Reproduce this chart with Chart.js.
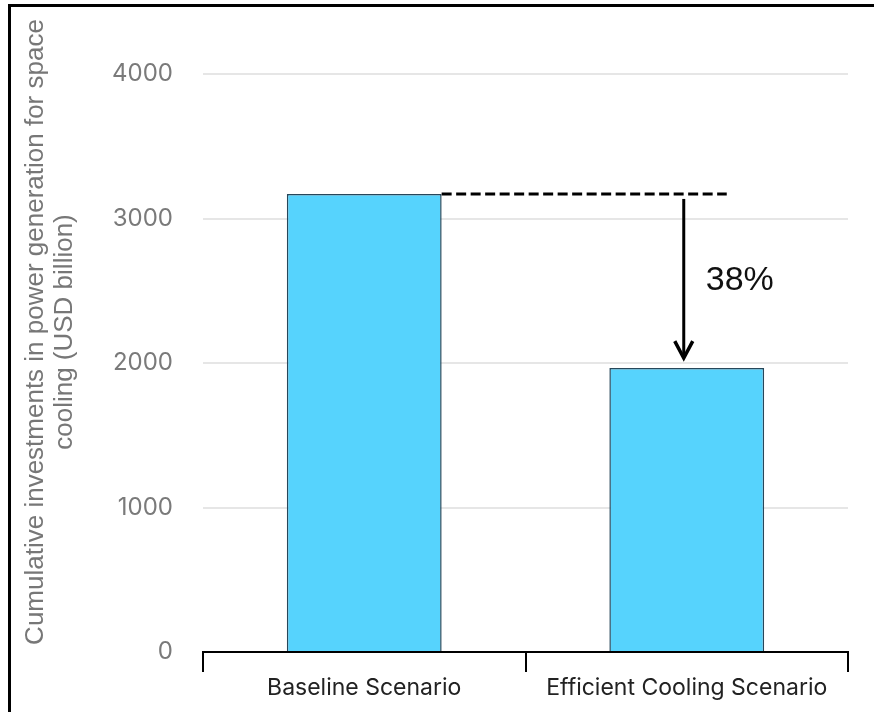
<!DOCTYPE html>
<html>
<head>
<meta charset="utf-8">
<title>Cumulative investments in power generation for space cooling</title>
<script src="https://cdn.jsdelivr.net/npm/chart.js@4.4.1/dist/chart.umd.min.js"></script>
<style>
  html, body { margin: 0; padding: 0; background: #fff; overflow: hidden; }
  #frame {
    position: absolute; left: 8px; top: 4px; width: 900px; height: 760px;
    border: 3px solid #000; box-sizing: border-box;
  }
  #wrap { position: absolute; left: 0; top: 0; width: 874px; height: 712px; }
</style>
</head>
<body>
<div id="frame"></div>
<div id="wrap"><canvas id="chart" width="874" height="712"></canvas></div>
<script>
// Scenarios and cumulative investment (USD billion)
const scenarios = ['Baseline Scenario', 'Efficient Cooling Scenario'];
const investments = [3170, 1965];
const yTicks = [0, 1000, 2000, 3000, 4000];
const yTitleLines = ['Cumulative investments in power generation for space', 'cooling (USD billion)'];

const reduction = Math.round((1 - investments[1] / investments[0]) * 100);

// Rotated two-line axis title on the left
const yTitlePlugin = {
  id: 'yTitle',
  afterDraw(chart, args, opts) {
    const { ctx } = chart;
    ctx.save();
    ctx.font = opts.font;
    ctx.fillStyle = opts.color;
    ctx.textAlign = 'center';
    ctx.textBaseline = 'middle';
    opts.lines.forEach((line, i) => {
      ctx.save();
      ctx.translate(opts.x + i * opts.lineHeight, opts.centerY);
      ctx.rotate(-Math.PI / 2);
      ctx.fillText(line, 0, 0);
      ctx.restore();
    });
    ctx.restore();
  }
};

// Dashed reference level, arrow and percentage drop between the two scenarios
const reductionPlugin = {
  id: 'reduction',
  afterDatasetsDraw(chart) {
    const { ctx, scales: { y } } = chart;
    const bars = chart.getDatasetMeta(0).data;
    const yTop = y.getPixelForValue(investments[0]);
    const yLow = y.getPixelForValue(investments[1]);
    const startX = bars[0].x + bars[0].width / 2;
    const endX = bars[1].x + 40;
    const arrowX = bars[1].x - 3;
    const tipY = yLow - 10;

    ctx.save();
    ctx.strokeStyle = '#000';
    ctx.lineWidth = 3;
    ctx.setLineDash([10, 4.5]);
    ctx.beginPath();
    ctx.moveTo(startX, yTop);
    ctx.lineTo(endX, yTop);
    ctx.stroke();

    ctx.setLineDash([]);
    ctx.lineWidth = 3;
    ctx.beginPath();
    ctx.moveTo(arrowX, yTop + 5);
    ctx.lineTo(arrowX, tipY - 2);
    ctx.stroke();

    ctx.lineWidth = 3.5;
    ctx.lineJoin = 'miter';
    ctx.beginPath();
    ctx.moveTo(arrowX - 9, tipY - 17);
    ctx.lineTo(arrowX, tipY);
    ctx.lineTo(arrowX + 9, tipY - 17);
    ctx.stroke();

    ctx.fillStyle = '#111';
    ctx.font = '34px "Liberation Sans", Arial, sans-serif';
    ctx.textAlign = 'left';
    ctx.textBaseline = 'middle';
    ctx.fillText(reduction + '%', arrowX + 22, (yTop + yLow) / 2);
    ctx.restore();
  }
};

new Chart(document.getElementById('chart'), {
  type: 'bar',
  data: {
    labels: scenarios,
    datasets: [{
      data: investments,
      backgroundColor: '#56d3fd',
      borderColor: '#27475a',
      borderWidth: 1.5,
      categoryPercentage: 1,
      barPercentage: 0.48
    }]
  },
  options: {
    responsive: false,
    animation: false,
    layout: { padding: { left: 0, right: 26, top: 74, bottom: 0 } },
    plugins: {
      legend: { display: false },
      tooltip: { enabled: false },
      yTitle: {
        lines: yTitleLines,
        x: 36,
        lineHeight: 29,
        centerY: 332,
        font: '26px "Liberation Sans", Arial, sans-serif',
        color: '#777'
      }
    },
    scales: {
      x: {
        afterFit(scale) { scale.height = 60; },
        border: { display: true, color: '#000', width: 2 },
        grid: {
          offset: true,
          drawOnChartArea: false,
          drawTicks: true,
          tickLength: 20,
          color: '#000',
          lineWidth: 2
        },
        ticks: {
          color: '#222',
          padding: 2,
          font: { family: 'Inter, Roboto, sans-serif', size: 23 }
        }
      },
      y: {
        min: 0,
        max: 4000,
        afterFit(scale) { scale.width = 203; },
        afterBuildTicks(scale) { scale.ticks = yTicks.map(v => ({ value: v })); },
        border: { display: false },
        grid: { color: '#e6e6e6', lineWidth: 2, drawTicks: false },
        ticks: {
          color: '#7a7a7a',
          padding: 30,
          callback: (value) => String(value),
          font: { family: 'Inter, Roboto, sans-serif', size: 24 }
        }
      }
    }
  },
  plugins: [yTitlePlugin, reductionPlugin]
});
</script>
</body>
</html>
